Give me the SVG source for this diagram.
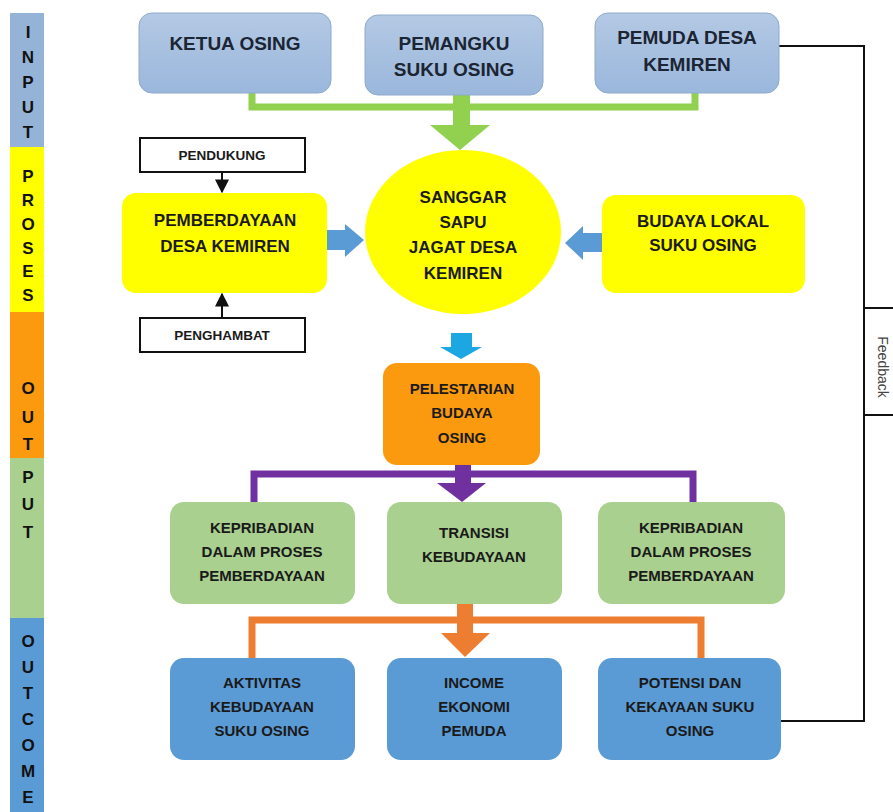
<svg xmlns="http://www.w3.org/2000/svg" width="893" height="812" viewBox="0 0 893 812">
<style>
  text { font-family: "Liberation Sans", Arial, sans-serif; font-weight: bold; fill: #1a1a1a; text-anchor: middle; }
  .side { font-size: 17px; fill: #111; }
  .top { font-size: 19px; fill: #1b2533; }
  .mid { font-size: 17px; }
  .small { font-size: 13.5px; }
  .low { font-size: 15px; }
  .topbox { fill: url(#gTop); stroke: #8faacb; stroke-width: 1; }
  .yel { fill: #ffff00; }
  .org { fill: #fb9a0f; }
  .grn { fill: #a9d08e; }
  .blu { fill: #5b9bd5; }
  .wbox { fill: #ffffff; stroke: #111; stroke-width: 2; }
  .fb { font-family: "Liberation Sans", Arial, sans-serif; font-weight: normal; font-size: 14px; fill: #444; }
</style>
<defs>
  <linearGradient id="gTop" x1="0" y1="0" x2="0" y2="1">
    <stop offset="0" stop-color="#b4c9e4"/>
    <stop offset="1" stop-color="#9ab7dc"/>
  </linearGradient>
  <marker id="ah" viewBox="0 0 10 10" refX="9" refY="5" markerWidth="7" markerHeight="7" orient="auto">
    <path d="M0,0 L10,5 L0,10 z" fill="#111"/>
  </marker>
</defs>
<rect width="893" height="812" fill="#ffffff"/>

<!-- Side bar -->
<g id="sidebar">
  <rect x="10" y="13" width="34" height="134" fill="#95b3d7"/>
  <rect x="10" y="147" width="34" height="165" fill="#ffff00"/>
  <rect x="10" y="312" width="34" height="146" fill="#fb9a0f"/>
  <rect x="10" y="458" width="34" height="160" fill="#a9d08e"/>
  <rect x="10" y="618" width="34" height="194" fill="#5b9bd5"/>
  <text class="side" x="28" y="38">I</text>
  <text class="side" x="28" y="63">N</text>
  <text class="side" x="28" y="88">P</text>
  <text class="side" x="28" y="113">U</text>
  <text class="side" x="28" y="138">T</text>
  <text class="side" x="28" y="182">P</text>
  <text class="side" x="28" y="206">R</text>
  <text class="side" x="28" y="230">O</text>
  <text class="side" x="28" y="254">S</text>
  <text class="side" x="28" y="277">E</text>
  <text class="side" x="28" y="301">S</text>
  <text class="side" x="28" y="394">O</text>
  <text class="side" x="28" y="423">U</text>
  <text class="side" x="28" y="450">T</text>
  <text class="side" x="28" y="483">P</text>
  <text class="side" x="28" y="510">U</text>
  <text class="side" x="28" y="538">T</text>
  <text class="side" x="28" y="647">O</text>
  <text class="side" x="28" y="673">U</text>
  <text class="side" x="28" y="699">T</text>
  <text class="side" x="28" y="725">C</text>
  <text class="side" x="28" y="751">O</text>
  <text class="side" x="28" y="777">M</text>
  <text class="side" x="28" y="803">E</text>
</g>

<!-- Connectors -->
<g id="connectors">
  <!-- green -->
  <path d="M252,93 V107 H695 V93" fill="none" stroke="#92d050" stroke-width="7"/>
  <rect x="453" y="95" width="17" height="31" fill="#92d050"/>
  <polygon points="430,125 490,125 460,150" fill="#92d050"/>
  <!-- blue side arrows -->
  <polygon points="327,230 345,230 345,224 364,240 345,257 345,250 327,250" fill="#5b9bd5"/>
  <polygon points="602,233 583,233 583,226 565,243 583,260 583,252 602,252" fill="#5b9bd5"/>
  <!-- small black arrows -->
  <line x1="222" y1="172" x2="222" y2="192" stroke="#111" stroke-width="2" marker-end="url(#ah)"/>
  <line x1="222" y1="318" x2="222" y2="294" stroke="#111" stroke-width="2" marker-end="url(#ah)"/>
  <!-- cyan arrow -->
  <rect x="451" y="333" width="21" height="15" fill="#1aa7e2"/>
  <polygon points="440,347 482,347 461,359" fill="#1aa7e2"/>
  <!-- purple -->
  <path d="M254,502 V474 H693 V502" fill="none" stroke="#7030a0" stroke-width="7"/>
  <rect x="455" y="465" width="16" height="19" fill="#7030a0"/>
  <polygon points="437,483 486,483 462,502" fill="#7030a0"/>
  <!-- orange -->
  <path d="M252,658 V620 H701 V658" fill="none" stroke="#ed7d31" stroke-width="7"/>
  <rect x="457" y="603" width="16" height="31" fill="#ed7d31"/>
  <polygon points="441,633 490,633 465,657" fill="#ed7d31"/>
  <!-- feedback -->
  <path d="M781,721 H864 V46 H779" fill="none" stroke="#111" stroke-width="2"/>
</g>

<g id="ketua">
  <rect class="topbox" x="139" y="13" width="192" height="80" rx="13"/>
  <text class="top" x="235" y="50">KETUA OSING</text>
</g>
<g id="pemangku">
  <rect class="topbox" x="365" y="15" width="178" height="80" rx="13"/>
  <text class="top" x="454" y="50">PEMANGKU</text>
  <text class="top" x="454" y="76">SUKU OSING</text>
</g>
<g id="pemuda">
  <rect class="topbox" x="595" y="13" width="184" height="80" rx="13"/>
  <text class="top" x="687" y="44">PEMUDA DESA</text>
  <text class="top" x="687" y="71">KEMIREN</text>
</g>

<g id="pendukung">
  <rect class="wbox" x="140" y="138" width="165" height="34"/>
  <text class="small" x="222" y="160">PENDUKUNG</text>
</g>
<g id="penghambat">
  <rect class="wbox" x="140" y="318" width="165" height="34"/>
  <text class="small" x="222" y="340">PENGHAMBAT</text>
</g>

<g id="pemberdayaan">
  <rect class="yel" x="122" y="193" width="205" height="100" rx="14"/>
  <text class="mid" x="225" y="226">PEMBERDAYAAN</text>
  <text class="mid" x="225" y="252">DESA KEMIREN</text>
</g>
<g id="sanggar">
  <ellipse class="yel" cx="463" cy="232" rx="98" ry="82"/>
  <text class="mid" x="463" y="203">SANGGAR</text>
  <text class="mid" x="463" y="228">SAPU</text>
  <text class="mid" x="463" y="253">JAGAT DESA</text>
  <text class="mid" x="463" y="279">KEMIREN</text>
</g>
<g id="budaya">
  <rect class="yel" x="602" y="195" width="203" height="98" rx="14"/>
  <text class="mid" x="703" y="227">BUDAYA LOKAL</text>
  <text class="mid" x="703" y="251">SUKU OSING</text>
</g>

<g id="pelestarian">
  <rect class="org" x="383" y="363" width="157" height="102" rx="14"/>
  <text class="low" x="462" y="394">PELESTARIAN</text>
  <text class="low" x="462" y="418">BUDAYA</text>
  <text class="low" x="462" y="443">OSING</text>
</g>

<g id="kepribadian1">
  <rect class="grn" x="170" y="502" width="185" height="102" rx="14"/>
  <text class="low" x="262" y="533">KEPRIBADIAN</text>
  <text class="low" x="262" y="557">DALAM PROSES</text>
  <text class="low" x="262" y="581">PEMBERDAYAAN</text>
</g>
<g id="transisi">
  <rect class="grn" x="387" y="502" width="175" height="102" rx="14"/>
  <text class="low" x="474" y="538">TRANSISI</text>
  <text class="low" x="474" y="562">KEBUDAYAAN</text>
</g>
<g id="kepribadian2">
  <rect class="grn" x="598" y="502" width="187" height="102" rx="14"/>
  <text class="low" x="691" y="533">KEPRIBADIAN</text>
  <text class="low" x="691" y="557">DALAM PROSES</text>
  <text class="low" x="691" y="581">PEMBERDAYAAN</text>
</g>

<g id="aktivitas">
  <rect class="blu" x="170" y="658" width="185" height="102" rx="14"/>
  <text class="low" x="262" y="688">AKTIVITAS</text>
  <text class="low" x="262" y="712">KEBUDAYAAN</text>
  <text class="low" x="262" y="736">SUKU OSING</text>
</g>
<g id="income">
  <rect class="blu" x="387" y="658" width="175" height="102" rx="14"/>
  <text class="low" x="474" y="688">INCOME</text>
  <text class="low" x="474" y="712">EKONOMI</text>
  <text class="low" x="474" y="736">PEMUDA</text>
</g>
<g id="potensi">
  <rect class="blu" x="598" y="658" width="183" height="102" rx="14"/>
  <text class="low" x="690" y="688">POTENSI DAN</text>
  <text class="low" x="690" y="712">KEKAYAAN SUKU</text>
  <text class="low" x="690" y="736">OSING</text>
</g>

<g id="feedback">
  <rect x="864" y="308" width="40" height="107" fill="#ffffff" stroke="#111" stroke-width="2"/>
  <text class="fb" transform="translate(878,367) rotate(90)">Feedback</text>
</g>
</svg>
